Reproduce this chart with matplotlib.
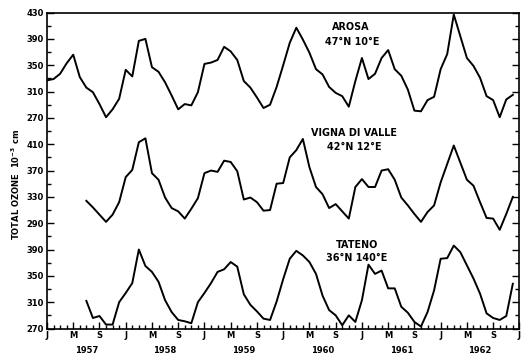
import matplotlib
matplotlib.use('Agg')
import matplotlib.pyplot as plt
import numpy as np

# monthly mean total ozone (10^-3 cm), month 0 = Jan 1957
arosa = [327, 329, 337, 353, 366, 332, 316, 309, 291, 271, 283, 299,
         343, 333, 387, 390, 347, 340, 324, 304, 283, 291, 289, 309,
         352, 354, 358, 378, 371, 358, 326, 316, 301, 285, 290, 317,
         350, 384, 407, 389, 369, 344, 336, 317, 308, 303, 287, 326,
         361, 329, 337, 361, 373, 344, 334, 313, 281, 280, 297, 302,
         344, 367, 427, 394, 361, 349, 331, 303, 297, 271, 298, 305]
# Vigna di Valle and Tateno start in July 1957
vigna = [324, 314, 303, 292, 303, 322,
         360, 371, 413, 419, 366, 356, 329, 313, 308, 297, 312, 328,
         366, 370, 368, 385, 383, 369, 326, 329, 322, 309, 310, 350,
         351, 390, 401, 418, 375, 345, 334, 313, 319, 308, 297, 345,
         357, 345, 345, 370, 372, 356, 329, 317, 304, 292, 307, 317,
         352, 380, 408, 382, 356, 347, 322, 298, 297, 280, 304, 330]
tateno = [312, 286, 289, 276, 276, 310,
          324, 339, 390, 365, 356, 341, 313, 295, 283, 281, 278, 310,
          324, 339, 356, 360, 371, 364, 322, 306, 296, 285, 283, 311,
          345, 376, 388, 381, 371, 353, 320, 298, 290, 275, 290, 280,
          313, 367, 353, 358, 331, 331, 303, 294, 280, 273, 295, 328,
          376, 377, 396, 386, 366, 346, 323, 293, 286, 283, 289, 338]

years = ['1957', '1958', '1959', '1960', '1961', '1962']
month_letters = ['J', 'M', 'S']

tateno_ticks = [270, 310, 350, 390]
vigna_ticks = [290, 330, 370, 410]
arosa_ticks = [270, 310, 350, 390, 430]

# shift each station so the three curves stack on one axis
off_tateno = -270
off_vigna = -130
off_arosa = 50

fig = plt.figure(figsize=(5.22, 3.55), dpi=100)
ax = fig.add_axes([0.090, 0.0746, 0.905, 0.890])

t_ar = np.arange(len(arosa))
t_vi = np.arange(72 - len(vigna), 72)
t_ta = np.arange(72 - len(tateno), 72)

ax.plot(t_ar, np.array(arosa) + off_arosa, color='black', lw=1.4)
ax.plot(t_vi, np.array(vigna) + off_vigna, color='black', lw=1.4)
ax.plot(t_ta, np.array(tateno) + off_tateno, color='black', lw=1.4)

ax.set_xlim(0, 72)
ax.set_ylim(0, 480)

# y ticks: labels in each station's own units
ypos = ([v + off_tateno for v in tateno_ticks] +
        [v + off_vigna for v in vigna_ticks] +
        [v + off_arosa for v in arosa_ticks])
ylab = [str(v) for v in tateno_ticks + vigna_ticks + arosa_ticks]
ax.set_yticks(ypos)
ax.set_yticklabels(ylab, fontsize=6, fontweight='bold')
ax.set_yticks(np.arange(20, 480, 40), minor=True)

xmaj = np.arange(0, 73, 4)
ax.set_xticks(xmaj)
ax.set_xticklabels([month_letters[i % 3] for i in range(len(xmaj))],
                   fontsize=6, fontweight='bold')
ax.set_xticks(np.arange(0, 73), minor=True)

ax.tick_params(which='both', direction='in', right=True, top=False, width=1)
ax.tick_params(which='major', length=5, pad=2)
ax.tick_params(which='minor', length=3)

for i, yr in enumerate(years):
    ax.text(12 * i + 6, -0.068, yr, transform=ax.get_xaxis_transform(),
            ha='center', va='center', fontsize=6, fontweight='bold')

for sp in ax.spines.values():
    sp.set_linewidth(1.2)

lab = dict(ha='center', va='center', fontsize=6.9, fontweight='bold')
ax.text(46.3, 457.6, 'AROSA', **lab)
ax.text(46.6, 436, '47°N 10°E', **lab)
ax.text(46.8, 297.6, 'VIGNA DI VALLE', **lab)
ax.text(46.9, 276.3, '42°N 12°E', **lab)
ax.text(47.2, 127, 'TATENO', **lab)
ax.text(47.2, 107, '36°N 140°E', **lab)

fig.text(0.031, 0.479, r'TOTAL OZONE  $\mathbf{10^{-3}}$ cm', rotation=90,
         ha='center', va='center', fontsize=6, fontweight='bold')

fig.savefig('out.png', dpi=100)
